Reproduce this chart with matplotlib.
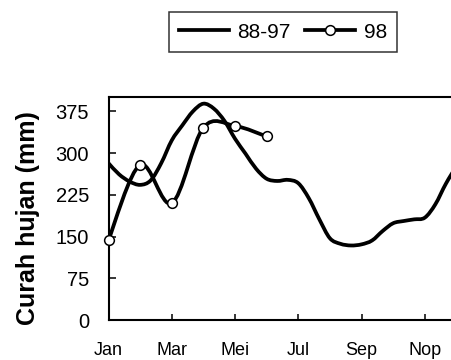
import matplotlib
matplotlib.use("Agg")
import numpy as np
import matplotlib.pyplot as plt
from matplotlib.path import Path
from matplotlib.patches import PathPatch
from matplotlib.lines import Line2D

plt.rcParams['font.family'] = ['Liberation Sans', 'DejaVu Sans']

# dekad index (0 = first dekad of Jan), rainfall in mm
dekad_8897 = list(range(36))
rain_8897 = [282, 262, 249, 243, 251, 282, 323, 350, 375, 389, 380, 358,
             326, 299, 272, 254, 250, 252, 246, 219, 181, 147, 137, 134,
             136, 143, 160, 174, 178, 181, 184, 208, 245, 275, 290, 295]

# 1998, monthly values (Jan..Jun) at dekad positions
dekad_98 = [0, 3, 6, 9, 12, 15]
rain_98 = [144, 279, 210, 346, 349, 330]

month_pos = [0, 6, 12, 18, 24, 30]
month_labels = ['Jan', 'Mar', 'Mei', 'Jul', 'Sep', 'Nop']
y_ticks = [0, 75, 150, 225, 300, 375]


def smooth_path(xs, ys):
    # Excel-like smoothed line drawn as cubic Bezier segments
    pts = np.column_stack([xs, ys]).astype(float)
    n = len(pts)
    verts = [pts[0]]
    codes = [Path.MOVETO]
    for i in range(n - 1):
        p0 = pts[max(i - 1, 0)]
        p1 = pts[i]
        p2 = pts[i + 1]
        p3 = pts[min(i + 2, n - 1)]
        c1 = p1 + (p2 - p0) / 6.0
        c2 = p2 - (p3 - p1) / 6.0
        verts += [c1, c2, p2]
        codes += [Path.CURVE4] * 3
    return Path(verts, codes)


fig = plt.figure(figsize=(4.51, 3.6), dpi=100)
ax = fig.add_axes([108.5 / 451, 40 / 360, 369 / 451, 223 / 360])

lw = 2.7
ax.add_patch(PathPatch(smooth_path(dekad_8897, rain_8897), fill=False,
                       edgecolor='black', lw=lw, capstyle='round', joinstyle='round'))
ax.add_patch(PathPatch(smooth_path(dekad_98, rain_98), fill=False,
                       edgecolor='black', lw=lw, capstyle='round', joinstyle='round'))
ax.plot(dekad_98, rain_98, linestyle='none', marker='o', markersize=7,
        markerfacecolor='white', markeredgecolor='black', markeredgewidth=1.1,
        zorder=5, clip_on=False)

ax.set_xlim(0, 35)
ax.set_ylim(0, 401)
ax.set_xticks(month_pos)
ax.set_xticklabels(month_labels, fontsize=13)
ax.set_yticks(y_ticks)
ax.set_yticklabels([str(v) for v in y_ticks], fontsize=14.5)
ax.tick_params(axis='y', direction='in', length=5, width=1.1, pad=14)
ax.tick_params(axis='x', direction='in', length=4, width=1.1, pad=16)

for s in ['left', 'bottom', 'top']:
    ax.spines[s].set_linewidth(1.5)
ax.spines['right'].set_visible(False)

ax.set_ylabel('Curah hujan (mm)', fontsize=18, fontweight='bold')
ax.yaxis.set_label_coords(-0.185, 0.455)

h1 = Line2D([], [], color='black', lw=lw)
h2 = Line2D([], [], color='black', lw=lw, marker='o', markersize=7,
            markerfacecolor='white', markeredgecolor='black', markeredgewidth=1.1)
leg = fig.legend([h1, h2], ['88-97', '98'], loc='center',
                 bbox_to_anchor=(283 / 451, 1 - 32 / 360), ncol=2, fontsize=15,
                 frameon=True, fancybox=False, handlelength=2.4,
                 handletextpad=0.4, columnspacing=0.7, borderpad=0.5)
leg.get_frame().set_edgecolor('black')
leg.get_frame().set_linewidth(1.1)

fig.savefig('out.png', dpi=100)
